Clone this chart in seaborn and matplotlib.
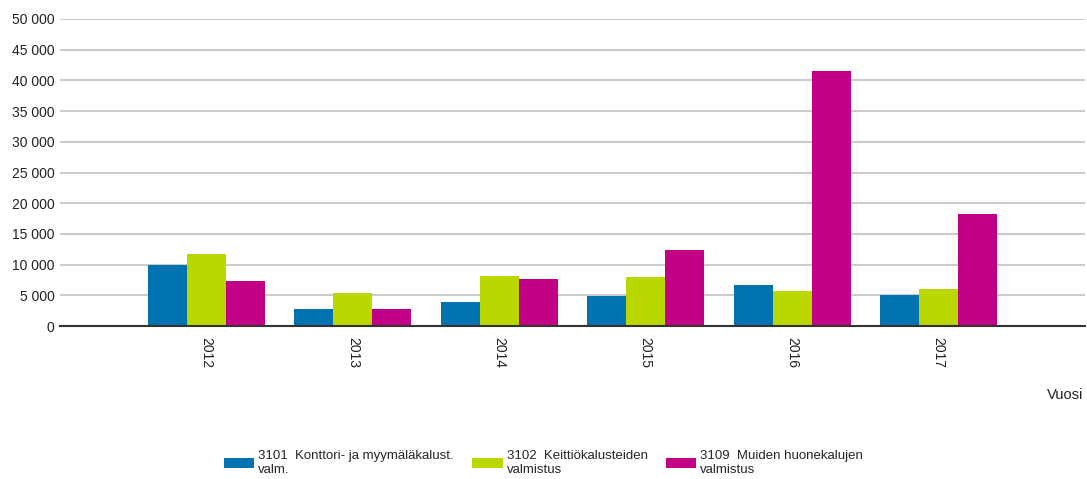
import pandas as pd
import matplotlib.pyplot as plt
import seaborn as sns

years = ['2012', '2013', '2014', '2015', '2016', '2017']
series = ['3101  Konttori- ja myymäläkalust.\nvalm.',
          '3102  Keittiökalusteiden\nvalmistus',
          '3109  Muiden huonekalujen\nvalmistus']
office = [9900, 2770, 3860, 4890, 6690, 5060]
kitchen = [11740, 5330, 8210, 7940, 5710, 6090]
other = [7340, 2770, 7610, 12340, 41540, 18210]
colors = ['#0073b0', '#bad800', '#c10085']

df = pd.DataFrame({
    'Vuosi': years * 3,
    'Sarja': [series[0]] * 6 + [series[1]] * 6 + [series[2]] * 6,
    'Arvo': office + kitchen + other,
})

sns.set_style('white')
plt.rcParams['font.family'] = ['Liberation Sans', 'DejaVu Sans']

fig = plt.figure(figsize=(10.87, 4.79), dpi=100)
ax = fig.add_axes([60 / 1087, 1 - 326 / 479, 1025 / 1087, 307 / 479])

sns.barplot(data=df, x='Vuosi', y='Arvo', hue='Sarja', order=years,
            hue_order=series, palette=colors, width=0.8, linewidth=0,
            saturation=1, ax=ax, legend=True)

ax.set_xlim(-1, 6)
ax.set_ylim(0, 50000)
ax.set_yticks(range(0, 50001, 5000))
ax.set_yticklabels([f'{v:,}'.replace(',', ' ') for v in range(0, 50001, 5000)])
ax.yaxis.grid(True, color='#cccccc', linewidth=1.5)
ax.set_axisbelow(True)
for s in ['left', 'right', 'top']:
    ax.spines[s].set_visible(False)
ax.spines['bottom'].set_color('#333333')
ax.spines['bottom'].set_linewidth(1.5)
ax.tick_params(axis='y', length=0, labelsize=10, labelcolor='#222222', pad=4)
ax.tick_params(axis='x', length=0, labelsize=10, labelcolor='#222222', pad=8,
               labelrotation=-90)
ax.set_xlabel('')
ax.set_ylabel('')
fig.text(1083 / 1087, 1 - 395 / 479, 'Vuosi', ha='right', va='center',
         fontsize=10.5, color='#222222')

handles, labels = ax.get_legend_handles_labels()
ax.get_legend().remove()
fig.legend(handles, labels, loc='lower center', bbox_to_anchor=(0.5, -0.018),
           ncol=3, frameon=False, fontsize=9.5, handlelength=2.3,
           handleheight=0.8, handletextpad=0.3, columnspacing=1.4,
           labelspacing=0.2)

plt.savefig('out.png', dpi=100)
